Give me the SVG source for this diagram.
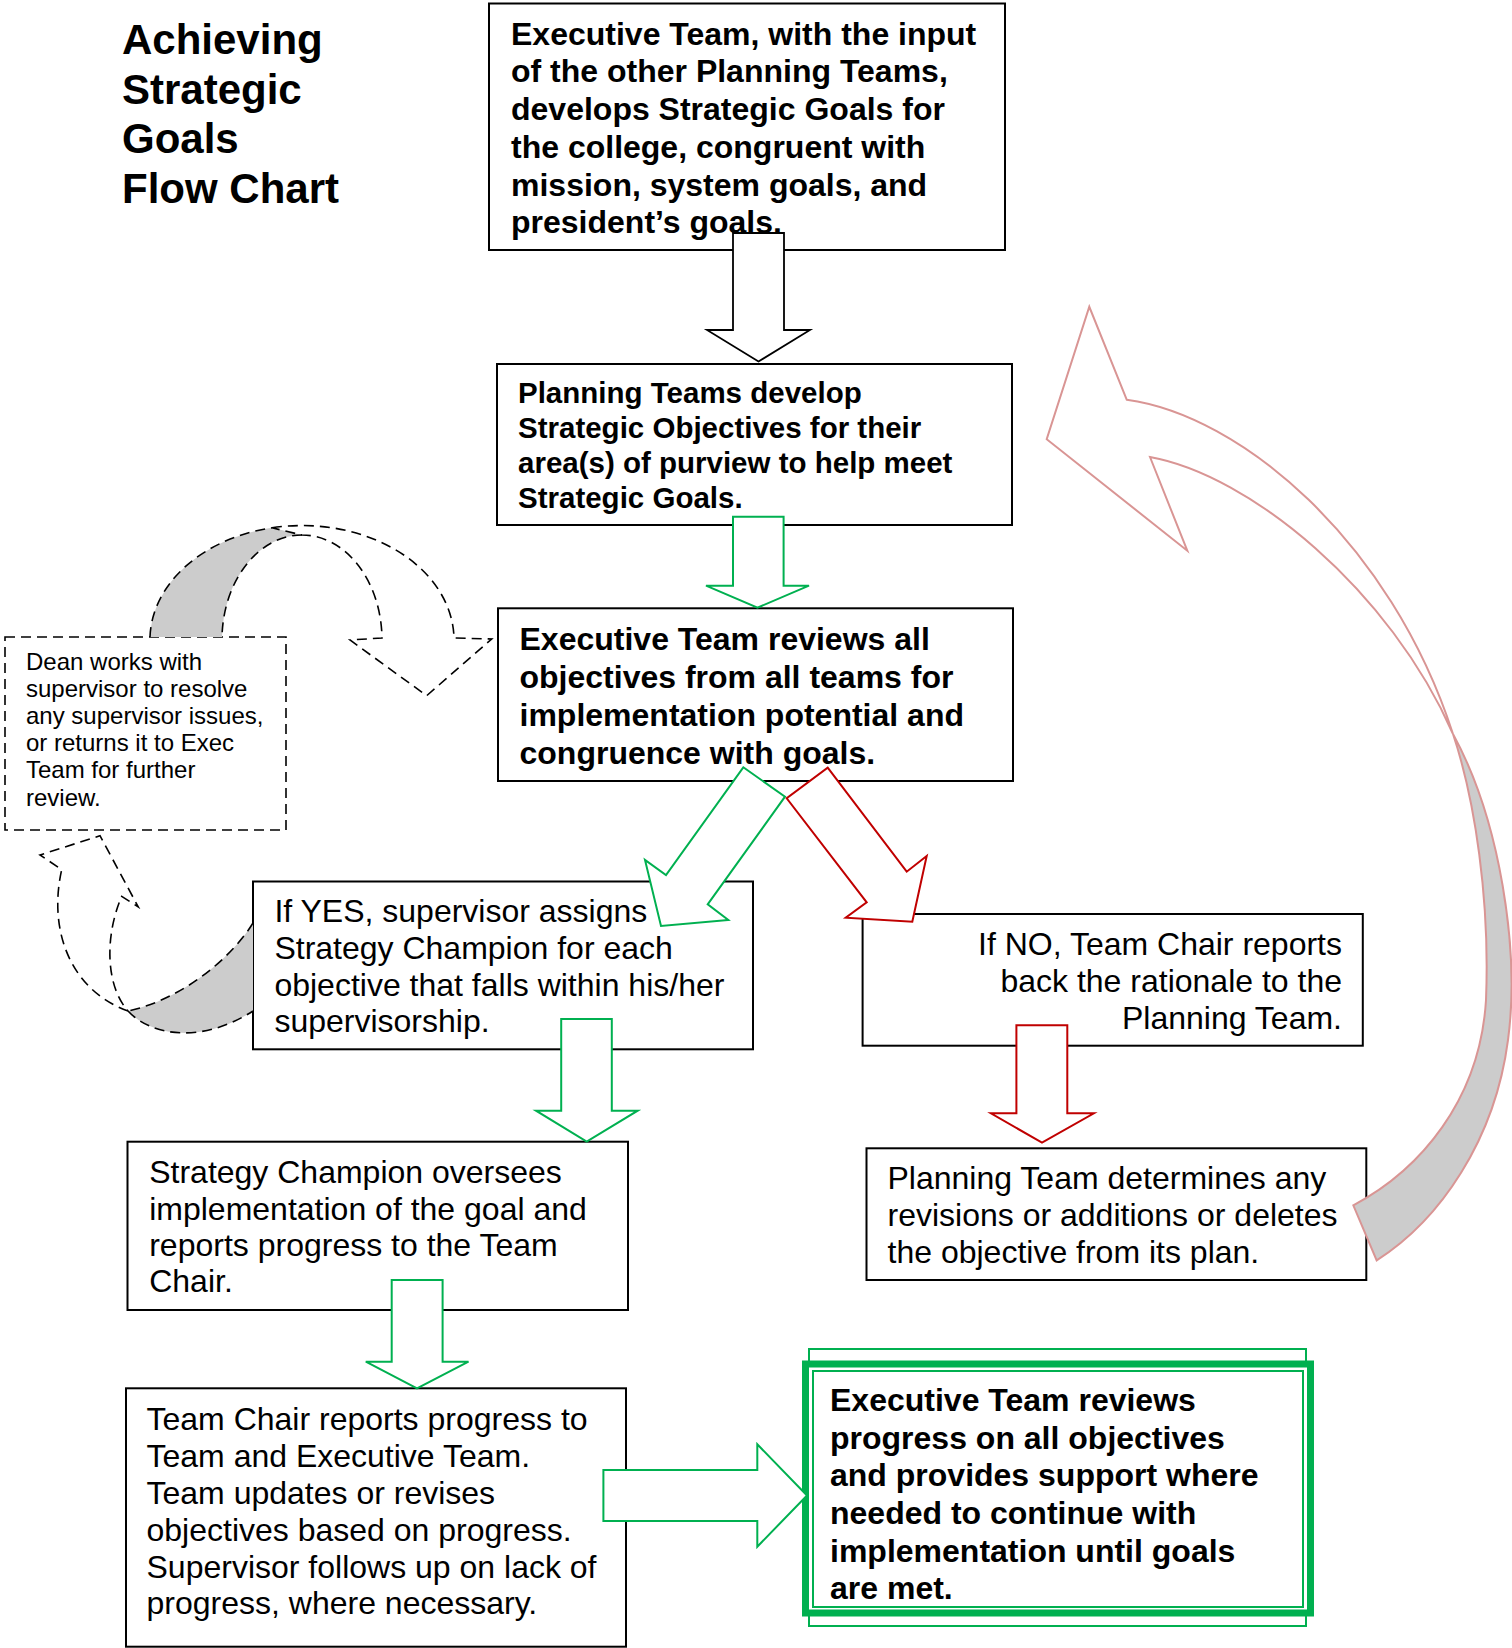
<svg xmlns="http://www.w3.org/2000/svg" width="1512" height="1648" viewBox="0 0 1512 1648">
<style>
text{font-family:"Liberation Sans",Arial,sans-serif;fill:#000}
.t{font-size:32px}
.b{font-weight:bold}
.ttl{font-size:42px;font-weight:bold}
.box{fill:#fff;stroke:#000;stroke-width:2}
.dash{stroke:#000;stroke-width:1.6;stroke-dasharray:10 6;fill:none}
.gray{fill:#cccccc}
.ablk{fill:#fff;stroke:#000;stroke-width:1.8;stroke-linejoin:miter}
.agrn{fill:#fff;stroke:#00b050;stroke-width:2}
.ared{fill:#fff;stroke:#c00000;stroke-width:2}
.pink{stroke:#d99594;stroke-width:2}
.g{fill:none;stroke:#00b050}
</style>
<rect width="1512" height="1648" fill="#fff"/>

<g id="title">
<text class="ttl" x="122" y="54">Achieving</text>
<text class="ttl" x="122" y="103.5">Strategic</text>
<text class="ttl" x="122" y="153">Goals</text>
<text class="ttl" x="122" y="202.5">Flow Chart</text>
</g>

<g id="node-exec-goals">
<rect class="box" x="489" y="3.5" width="516" height="246.5"/>
<text class="t b" x="511" y="44.5">Executive Team, with the input</text>
<text class="t b" x="511" y="82.3">of the other Planning Teams,</text>
<text class="t b" x="511" y="120.1">develops Strategic Goals for</text>
<text class="t b" x="511" y="157.9">the college, congruent with</text>
<text class="t b" x="511" y="195.7">mission, system goals, and</text>
<text class="t b" x="511" y="233.3">president’s goals.</text>
</g>

<g id="node-planning-objectives">
<rect class="box" x="497" y="364" width="515" height="161"/>
<text class="b" font-size="29.5" x="518" y="403.3">Planning Teams develop</text>
<text class="b" font-size="29.5" x="518" y="438.1">Strategic Objectives for their</text>
<text class="b" font-size="29.5" x="518" y="472.9">area(s) of purview to help meet</text>
<text class="b" font-size="29.5" x="518" y="507.7">Strategic Goals.</text>
</g>

<g id="node-exec-review">
<rect class="box" x="498" y="608.3" width="515" height="172.7"/>
<text class="t b" x="519.5" y="650.3">Executive Team reviews all</text>
<text class="t b" x="519.5" y="688.3">objectives from all teams for</text>
<text class="t b" x="519.5" y="726.3">implementation potential and</text>
<text class="t b" x="519.5" y="764.3">congruence with goals.</text>
</g>

<g id="node-dean">
<rect x="5" y="637" width="281" height="193" fill="#fff" stroke="#000" stroke-width="1.6" stroke-dasharray="10 6"/>
<text font-size="24" x="26" y="669.6">Dean works with</text>
<text font-size="24" x="26" y="696.8">supervisor to resolve</text>
<text font-size="24" x="26" y="724">any supervisor issues,</text>
<text font-size="24" x="26" y="751.2">or returns it to Exec</text>
<text font-size="24" x="26" y="778.4">Team for further</text>
<text font-size="24" x="26" y="805.6">review.</text>
</g>

<g id="node-yes">
<rect class="box" x="253" y="881.5" width="500" height="167.8"/>
<text class="t" x="274.4" y="922">If YES, supervisor assigns</text>
<text class="t" x="274.4" y="958.7">Strategy Champion for each</text>
<text class="t" x="274.4" y="995.6">objective that falls within his/her</text>
<text class="t" x="274.4" y="1032">supervisorship.</text>
</g>

<g id="node-no">
<rect class="box" x="862.6" y="914" width="500.2" height="131.7"/>
<text class="t" x="1342" y="955.3" text-anchor="end">If NO, Team Chair reports</text>
<text class="t" x="1342" y="992" text-anchor="end">back the rationale to the</text>
<text class="t" x="1342" y="1028.7" text-anchor="end">Planning Team.</text>
</g>

<g id="node-planning-revise">
<rect class="box" x="866.5" y="1148.3" width="499.8" height="131.7"/>
<text class="t" x="887.5" y="1189">Planning Team determines any</text>
<text class="t" x="887.5" y="1226.2">revisions or additions or deletes</text>
<text class="t" x="887.5" y="1263.4">the objective from its plan.</text>
</g>

<g id="node-champion">
<rect class="box" x="127.5" y="1141.7" width="500.5" height="168.3"/>
<text class="t" x="149.2" y="1183">Strategy Champion oversees</text>
<text class="t" x="149.2" y="1219.8">implementation of the goal and</text>
<text class="t" x="149.2" y="1256">reports progress to the Team</text>
<text class="t" x="149.2" y="1292.3">Chair.</text>
</g>

<g id="node-team-chair">
<rect class="box" x="126" y="1388.3" width="500" height="258.4"/>
<text class="t" x="146.5" y="1430.3">Team Chair reports progress to</text>
<text class="t" x="146.5" y="1467.1">Team and Executive Team.</text>
<text class="t" x="146.5" y="1503.9">Team updates or revises</text>
<text class="t" x="146.5" y="1540.7">objectives based on progress.</text>
<text class="t" x="146.5" y="1577.5">Supervisor follows up on lack of</text>
<text class="t" x="146.5" y="1614.3">progress, where necessary.</text>
</g>

<g id="node-exec-progress">
<rect x="809" y="1349" width="497" height="277" class="g" stroke-width="2"/>
<rect x="805.5" y="1364" width="505" height="249" fill="#fff" stroke="#00b050" stroke-width="7"/>
<rect x="813" y="1371" width="490" height="236" class="g" stroke-width="2"/>
<text class="t b" x="830" y="1410.8">Executive Team reviews</text>
<text class="t b" x="830" y="1448.5">progress on all objectives</text>
<text class="t b" x="830" y="1486.2">and provides support where</text>
<text class="t b" x="830" y="1523.9">needed to continue with</text>
<text class="t b" x="830" y="1561.6">implementation until goals</text>
<text class="t b" x="830" y="1599.3">are met.</text>
</g>

<g id="connectors">
<polygon class="ablk" points="733,233 784,233 784,330 810,330 758.5,361.5 707,330 733,330"/>
<polygon class="agrn" points="733,516.7 783.6,516.7 783.6,585.7 809,585.7 757.5,607.7 706,585.7 733,585.7"/>
<polygon class="agrn" points="743.3,767.3 785,796.7 707.7,904.3 728.3,920 661,926 645,860 666,875"/>
<polygon class="ared" points="827.7,767.7 906.7,871.7 926.7,856 912.3,921.7 845.7,917.7 866.7,902.3 786.7,798.3"/>
<polygon class="agrn" points="561.2,1019 611.8,1019 611.8,1110.7 637.7,1110.7 586.7,1141.7 536,1110.7 561.2,1110.7"/>
<polygon class="agrn" points="391.7,1280 442.6,1280 442.6,1361.7 468.5,1361.7 417,1388.3 365.8,1361.7 391.7,1361.7"/>
<polygon class="ared" points="1016.4,1025.3 1067.3,1025.3 1067.3,1113.3 1093.9,1113.3 1042,1142.7 990.9,1113.3 1016.4,1113.3"/>
<polygon class="agrn" points="603.4,1470 757.3,1470 757.3,1444.3 807,1495.5 757.3,1546.7 757.3,1521 603.4,1521"/>

<g id="loop-dean-to-review">
<path class="gray" d="M150,637 A152,114.5 0 0 1 272,527.8 L302,535 A80,105 0 0 0 222,637 Z"/>
<path class="dash" d="M150,637 A152,114.5 0 0 1 272,527.8 M302,535 A80,105 0 0 0 222,637"/>
<path fill="#fff" class="dash" d="M272,527.8 A152,114.5 0 0 1 454,638 L491.7,639 L426.7,695.7 L350,640 L382,638 A80,105 0 0 0 302,535 Z"/>
</g>

<g id="loop-yes-to-dean">
<path class="gray" d="M128,1011 C150,1035 200,1045 253,1011 L253,923 C230,960 180,1000 128,1011 Z"/>
<path class="dash" d="M128,1011 C150,1035 200,1045 253,1011 M253,923 C230,960 180,1000 128,1011"/>
<path fill="#fff" class="dash" d="M128,1011 C70,990 48,930 61.7,869.6 L40,855 L100,835.7 L138.3,907 L121.7,896.4 C105,935 105,985 128,1011 Z"/>
</g>

<g id="loop-revise-to-planning">
<path class="gray pink" d="M1453,734 C1500,820 1520,950 1508,1040 C1495,1140 1440,1220 1376.7,1260.4 L1353.3,1205.3 C1420,1170 1480,1100 1486,1000 C1490,900 1475,800 1453,734 Z"/>
<path class="pink" fill="#fff" d="M1150,457 L1187.3,550.7 L1046.7,439.2 L1089.3,306.8 L1126.7,399.7 C1240,415 1390,540 1453,734 C1390,590 1250,475 1150,457 Z"/>
</g>
</g>
</svg>
